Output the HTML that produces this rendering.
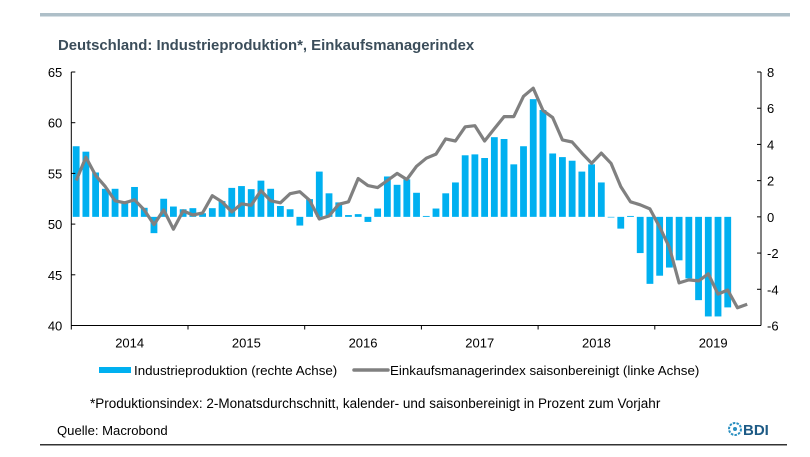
<!DOCTYPE html>
<html><head><meta charset="utf-8"><style>
html,body{margin:0;padding:0;background:#fff;}
svg{display:block;font-family:"Liberation Sans",Arial,sans-serif;}
</style></head><body>
<svg id="chart" width="810" height="457" viewBox="0 0 810 457">
<rect x="40" y="13" width="750" height="3.5" fill="#aebfc8"/>
<text x="58" y="50" font-size="14.9" font-weight="bold" fill="#3b4d5a">Deutschland: Industrieproduktion*, Einkaufsmanagerindex</text>
<g id="bars"></g>
<g id="axes"></g>
<g id="line"></g>
<g>
<rect x="99" y="367" width="32" height="6" fill="#00b0f0"/>
<text x="134" y="375" font-size="13.35" fill="#000">Industrieproduktion (rechte Achse)</text>
<line x1="354" y1="370" x2="388" y2="370" stroke="#808080" stroke-width="3.5" stroke-linecap="round"/>
<text x="390" y="375" font-size="13.35" fill="#000">Einkaufsmanagerindex saisonbereinigt (linke Achse)</text>
</g>
<text x="90" y="408" font-size="13.5" fill="#000">*Produktionsindex: 2-Monatsdurchschnitt, kalender- und saisonbereinigt in Prozent zum Vorjahr</text>
<text x="57" y="435" font-size="13.1" fill="#000">Quelle: Macrobond</text>
<g>
<circle cx="735" cy="429" r="6" fill="none" stroke="#2a8fc0" stroke-width="2" stroke-dasharray="2.5 1.2"/>
<circle cx="735" cy="429" r="2" fill="#2a8fc0"/>
<text x="743" y="435" font-size="15" font-weight="bold" fill="#1d5a85">BDI</text>
</g>
<rect x="40" y="444" width="747" height="1.5" fill="#333"/>
</svg>
<script>
const years = ["2014","2015","2016","2017","2018","2019"];
const leftTicks = [40,45,50,55,60,65];
const rightTicks = [-6,-4,-2,0,2,4,6,8];
const industrieproduktion = [3.9,3.6,2.45,1.55,1.55,0.85,1.65,0.5,-0.9,1.0,0.57,0.42,
0.48,0.2,0.48,0.87,1.6,1.7,1.53,2.0,1.55,0.6,0.42,-0.48,
0.98,2.5,1.3,0.8,0.1,0.15,-0.28,0.46,2.23,1.77,2.07,1.33,
0.05,0.46,1.3,1.9,3.4,3.45,3.25,4.4,4.3,2.9,3.9,6.5,
5.9,3.5,3.3,3.1,2.5,2.9,1.9,0,-0.65,0.05,-2.0,-3.7,
-3.25,-2.8,-2.4,-3.4,-4.6,-5.5,-5.5,-5.0];
const einkaufsmanagerindex = [54.3,56.6,54.8,53.7,52.3,52.1,52.4,51.4,49.95,51.4,49.5,51.3,
50.9,51.1,52.8,52.2,51.2,52.0,51.85,53.3,52.3,52.1,53.0,53.2,
52.35,50.5,50.8,51.95,52.2,54.5,53.8,53.6,54.3,55.0,54.4,55.7,
56.5,56.9,58.4,58.2,59.6,59.7,58.2,59.4,60.6,60.6,62.6,63.4,
61.2,60.5,58.3,58.1,57.0,56.0,57.0,56.0,53.7,52.2,51.9,51.5,
49.7,47.7,44.2,44.5,44.4,45.1,43.1,43.5,41.75,42.1];

const NS="http://www.w3.org/2000/svg";
const X0=71.3, MW=116.7/12, YT=72, YB=325.5, XR=761;
const xMonth = i => X0 + MW*(i+0.5);
const yLeft = v => YB - (v-40)/(65-40)*(YB-YT);
const yRight = v => YB - (v+6)/(8+6)*(YB-YT);
function mk(tag, attrs, parent){const e=document.createElementNS(NS,tag);for(const k in attrs)e.setAttribute(k,attrs[k]);parent.appendChild(e);return e;}

const bars=document.getElementById('bars');
industrieproduktion.forEach((v,i)=>{
  const y0=yRight(0), y1=yRight(v);
  const r=mk('rect',{x:xMonth(i)-3.4,y:Math.min(y0,y1),width:6.8,height:Math.max(Math.abs(y1-y0),0.6),fill:'#00b0f0'},bars);
  
  
});

const axes=document.getElementById('axes');
let a=mk('line',{x1:X0,y1:YT,x2:X0,y2:YB,stroke:'#000','stroke-width':1},axes);


a=mk('line',{x1:XR,y1:YT,x2:XR,y2:YB,stroke:'#000','stroke-width':1},axes);


a=mk('line',{x1:X0,y1:YB,x2:XR,y2:YB,stroke:'#000','stroke-width':1},axes);


leftTicks.forEach(v=>{
  const y=yLeft(v);
  mk('line',{x1:X0,y1:y,x2:X0+4,y2:y,stroke:'#000'},axes);
  const t=mk('text',{x:X0-9,y:y+5,'font-size':13,'text-anchor':'end'},axes);
  t.textContent=v;
  
  
});
rightTicks.forEach(v=>{
  const y=yRight(v);
  mk('line',{x1:XR-4,y1:y,x2:XR,y2:y,stroke:'#000'},axes);
  const t=mk('text',{x:XR+6,y:y+5,'font-size':13,'text-anchor':'start'},axes);
  t.textContent=v;
  
  
});
years.forEach((yr,k)=>{
  const xs=X0+k*MW*12;
  mk('line',{x1:xs,y1:YB,x2:xs,y2:YB+4,stroke:'#000'},axes);
  const t=mk('text',{x:xs+MW*6,y:YB+22,'font-size':13,'text-anchor':'middle'},axes);
  t.textContent=yr;
  
  
});

const line=document.getElementById('line');
const pts=einkaufsmanagerindex.map((v,i)=>xMonth(i).toFixed(1)+','+yLeft(v).toFixed(1)).join(' ');
const pl=mk('polyline',{points:pts,fill:'none',stroke:'#808080','stroke-width':3.2,'stroke-linejoin':'round'},line);


</script>
</body></html>
